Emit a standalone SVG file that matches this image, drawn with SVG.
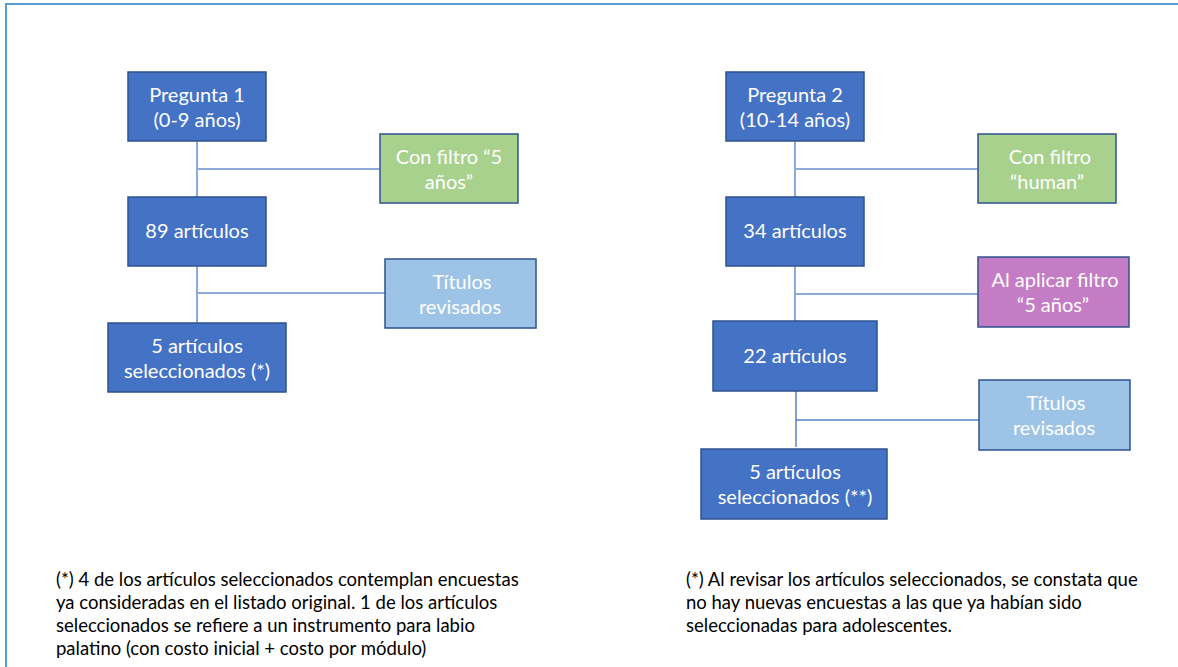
<svg xmlns="http://www.w3.org/2000/svg" width="1178" height="667" viewBox="0 0 1178 667">
<style>
.box{stroke:#2F528F;stroke-width:1.5}
.blue{fill:#4472C4}
.green{fill:#A9D18E}
.lblue{fill:#9DC3E6}
.pink{fill:#C47CC4}
.t{font-family:Lato,"Open Sans","Liberation Sans",sans-serif;font-size:20px;fill:#FFFFFF;text-anchor:middle}
.note{font-family:Lato,"Open Sans","Liberation Sans",sans-serif;font-size:18.5px;fill:#000000}
.conn{stroke:#8EAADB;stroke-width:2;fill:none}
.conn2{stroke:#5B84CC;stroke-width:1.5;fill:none}
</style>
<rect x="6" y="4" width="1180" height="680" fill="#FFFFFF" stroke="#5B9BD5" stroke-width="2"/>
<g id="connectors">
<path class="conn" d="M197,141 V323 M197,169 H380 M197,293 H385"/>
<path class="conn" d="M795,141 V321 M795,169 H978 M795,294 H978"/>
<path class="conn2" d="M796,391 V447 M795,420 H979"/>
</g>
<g id="p1"><rect class="box blue" x="128" y="72" width="138" height="69"/>
<text class="t" x="197" y="102">Pregunta 1</text><text class="t" x="197" y="127">(0-9 años)</text></g>
<g id="f1"><rect class="box green" x="380" y="134" width="138" height="69"/>
<text class="t" x="449" y="164">Con filtro “5 </text><text class="t" x="449" y="189">años”</text></g>
<g id="a89"><rect class="box blue" x="128" y="197" width="138" height="69"/>
<text class="t" x="197" y="238">89 artículos</text></g>
<g id="t1"><rect class="box lblue" x="385" y="259" width="151" height="69"/>
<text class="t" x="462" y="289">Títulos </text><text class="t" x="460" y="314">revisados</text></g>
<g id="s1"><rect class="box blue" x="108" y="323" width="178" height="69"/>
<text class="t" x="197" y="353">5 artículos </text><text class="t" x="197" y="378">seleccionados (*)</text></g>
<g id="p2"><rect class="box blue" x="726" y="72" width="138" height="69"/>
<text class="t" x="795" y="102">Pregunta 2</text><text class="t" x="795" y="127">(10-14 años)</text></g>
<g id="f2"><rect class="box green" x="978" y="134" width="138" height="69"/>
<text class="t" x="1050" y="164">Con filtro </text><text class="t" x="1047" y="189">“human”</text></g>
<g id="a34"><rect class="box blue" x="726" y="197" width="138" height="69"/>
<text class="t" x="795" y="238">34 artículos</text></g>
<g id="f3"><rect class="box pink" x="978" y="257" width="151" height="70"/>
<text class="t" x="1055" y="287">Al aplicar filtro </text><text class="t" x="1053" y="312">“5 años”</text></g>
<g id="a22"><rect class="box blue" x="713" y="321" width="164" height="70"/>
<text class="t" x="795" y="363">22 artículos</text></g>
<g id="t2"><rect class="box lblue" x="979" y="380" width="151" height="70"/>
<text class="t" x="1056" y="410">Títulos </text><text class="t" x="1054" y="435">revisados</text></g>
<g id="s2"><rect class="box blue" x="701" y="449" width="186" height="70"/>
<text class="t" x="795" y="479">5 artículos </text><text class="t" x="795" y="504">seleccionados (**)</text></g>
<g id="note1">
<text class="note" x="56" y="586">(*) 4 de los artículos seleccionados contemplan encuestas</text>
<text class="note" x="56" y="609">ya consideradas en el listado original. 1 de los artículos</text>
<text class="note" x="56" y="632">seleccionados se refiere a un instrumento para labio</text>
<text class="note" x="56" y="655">palatino (con costo inicial + costo por módulo)</text>
</g>
<g id="note2">
<text class="note" x="686" y="586">(*) Al revisar los artículos seleccionados, se constata que</text>
<text class="note" x="686" y="609">no hay nuevas encuestas a las que ya habían sido</text>
<text class="note" x="686" y="632">seleccionadas para adolescentes.</text>
</g>
</svg>
